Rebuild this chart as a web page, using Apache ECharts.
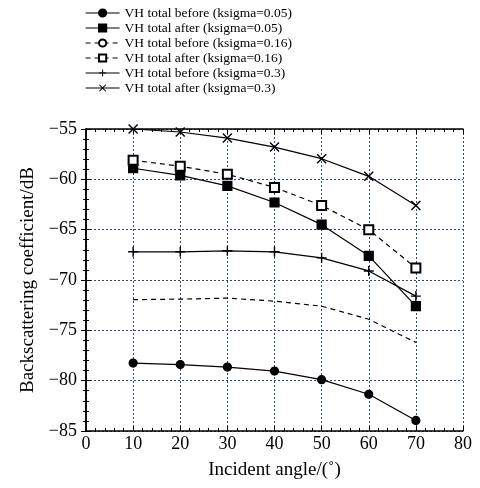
<!DOCTYPE html>
<html>
<head>
<meta charset="utf-8">
<script src="https://cdn.jsdelivr.net/npm/echarts@6/dist/echarts.min.js"></script>
<style>
  html, body { margin: 0; padding: 0; background: #fff; }
  #chart { width: 480px; height: 488px; }
</style>
</head>
<body>
<div id="chart"></div>
<script>
// Incident angle (deg) and backscattering coefficient (dB)
const angles = [10, 20, 30, 40, 50, 60, 70];
const before005 = [-78.25, -78.4, -78.65, -79.05, -79.9, -81.35, -83.95];
const after005  = [-58.9, -59.6, -60.65, -62.3, -64.5, -67.6, -72.6];
const before016 = [-71.95, -71.9, -71.8, -72.1, -72.6, -73.9, -76.2];
const after016  = [-58.1, -58.7, -59.5, -60.8, -62.6, -65.0, -68.8];
const before03  = [-67.2, -67.2, -67.1, -67.2, -67.8, -69.1, -71.6];
const after03   = [-55.0, -55.3, -55.9, -56.8, -57.95, -59.7, -62.6];

const FONT = '"Liberation Serif", "Times New Roman", serif';
const GRID_BLUE = '#2b439c';
const PLUS = 'path://M4.3,0H5.7V4.3H10V5.7H5.7V10H4.3V5.7H0V4.3H4.3Z';
const CROSS = 'path://M0,1L1,0L5,4L9,0L10,1L6,5L10,9L9,10L5,6L1,10L0,9L4,5Z';

const pairs = (ys) => angles.map((a, i) => [a, ys[i]]);

const seriesDefs = [
  { name: 'VH total before (ksigma=0.05)', data: before005, symbol: 'circle', size: 8, dashed: false },
  { name: 'VH total after (ksigma=0.05)',  data: after005,  symbol: 'rect', size: 9, dashed: false },
  { name: 'VH total before (ksigma=0.16)', data: before016, symbol: 'emptyCircle', size: 7, dashed: true, hide: true },
  { name: 'VH total after (ksigma=0.16)',  data: after016,  symbol: 'emptyRect', size: 9, dashed: true },
  { name: 'VH total before (ksigma=0.3)',  data: before03,  symbol: PLUS, size: 10, dashed: false, path: true },
  { name: 'VH total after (ksigma=0.3)',   data: after03,   symbol: CROSS, size: 10, dashed: false, path: true },
];

const series = seriesDefs.map((s) => ({
  name: s.name,
  type: 'line',
  data: pairs(s.data),
  symbol: s.symbol,
  symbolSize: s.size,
  showSymbol: !s.hide,
  lineStyle: { color: '#000', width: 1.2, type: s.dashed ? [5, 4] : 'solid' },
  itemStyle: { color: '#000', borderColor: '#000', borderWidth: s.path ? 0 : 1.2 },
  emphasis: { disabled: true },
  z: 5,
}));

const minus = (v) => String(v).replace('-', '\u2212');

const tickCommon = {
  axisLine: { show: true, lineStyle: { color: '#000', width: 1.5 } },
  axisTick: { show: true, inside: true, length: 5, lineStyle: { color: '#000', width: 1 } },
  minorTick: { show: true, splitNumber: 5, length: 3, lineStyle: { color: '#000', width: 1 } },
};

const chart = echarts.init(document.getElementById('chart'));
chart.setOption({
  animation: false,
  backgroundColor: '#fff',
  textStyle: { fontFamily: FONT },
  legend: {
    orient: 'vertical',
    left: 80,
    top: 1,
    itemWidth: 34,
    itemHeight: 9,
    itemGap: 1,
    lineStyle: { width: 1.2 },
    textStyle: { fontFamily: FONT, fontSize: 13.5, color: '#000' },
    data: seriesDefs.map((s) => s.name),
  },
  grid: { left: 86, right: 17, top: 129, bottom: 57 },
  xAxis: [
    {
      type: 'value', min: 0, max: 80, interval: 10,
      ...tickCommon,
      axisLabel: { color: '#000', fontFamily: FONT, fontSize: 18, margin: 4 },
      splitLine: { show: true, lineStyle: { color: GRID_BLUE, type: [2, 2], width: 1 } },
      name: 'Incident angle/(\u02DA)',
      nameLocation: 'middle',
      nameGap: 30,
      nameTextStyle: { color: '#000', fontFamily: FONT, fontSize: 19 },
    },
    {
      type: 'value', min: 0, max: 80, interval: 10, position: 'top',
      ...tickCommon,
      axisLabel: { show: false },
      splitLine: { show: false },
    },
  ],
  yAxis: [
    {
      type: 'value', min: -85, max: -55, interval: 5,
      ...tickCommon,
      axisLabel: { color: '#000', fontFamily: FONT, fontSize: 18, margin: 9, formatter: minus },
      splitLine: { show: true, lineStyle: { color: GRID_BLUE, type: [2, 2], width: 1 } },
      name: 'Backscattering coefficient/dB',
      nameLocation: 'middle',
      nameGap: 48,
      nameTextStyle: { color: '#000', fontFamily: FONT, fontSize: 19 },
    },
    {
      type: 'value', min: -85, max: -55, interval: 5, position: 'right',
      ...tickCommon,
      axisLabel: { show: false },
      splitLine: { show: false },
    },
  ],
  series,
});
</script>
</body>
</html>
